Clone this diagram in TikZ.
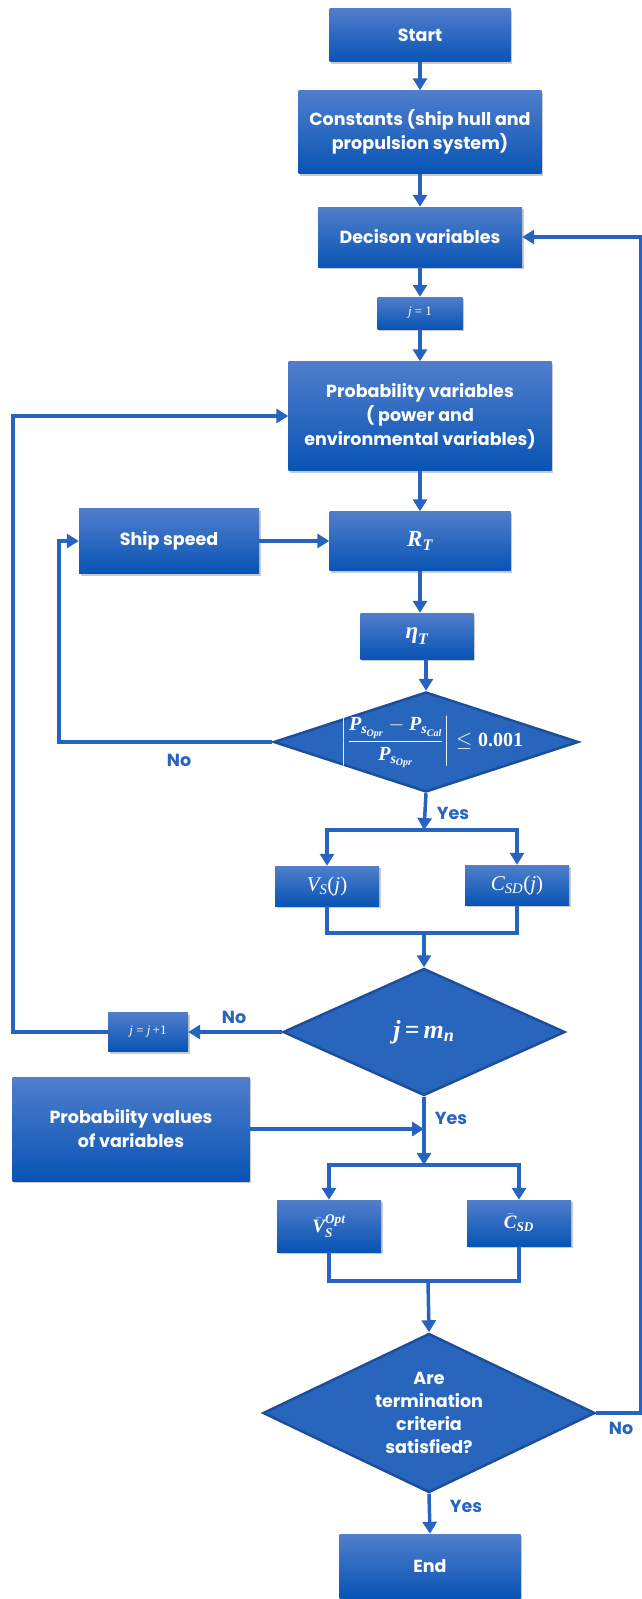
\documentclass[tikz,border=0pt]{standalone}
\usepackage{fontspec}
\setmainfont{Poppins}
\newfontfamily\tnr{Liberation Serif}
\usepackage{amsmath}
\usetikzlibrary{shapes.geometric,arrows.meta,shadows}

\definecolor{boxtop}{RGB}{80,126,204}
\definecolor{boxbot}{RGB}{8,84,180}
\definecolor{flowblue}{RGB}{38,100,192}
\definecolor{diafill}{RGB}{40,102,190}
\definecolor{diaedge}{RGB}{28,78,156}

% bold italic and plain italic letters in a Times-like face
\newcommand{\mvar}[1]{\text{\tnr\bfseries\itshape #1}}
\newcommand{\ivar}[1]{\text{\tnr\itshape #1}}
\newsavebox{\tolbox}

\tikzset{
  block/.style={rectangle, top color=boxtop, bottom color=boxbot, text=white,
    font=\bfseries\fontsize{17.5}{24}\selectfont, align=center, inner sep=0pt,
    drop shadow={shadow xshift=1.5pt, shadow yshift=-2pt, opacity=0.35, fill=black!60}},
  decision/.style={diamond, fill=diafill, draw=diaedge, line width=2.5pt, inner sep=0pt},
  flow/.style={draw=flowblue, line width=3.5pt, -{Triangle[length=12pt,width=14pt]}},
  link/.style={draw=flowblue, line width=3.5pt},
  answer/.style={text=flowblue, font=\bfseries\fontsize{17.5}{20}\selectfont}
}

\begin{document}
\sbox{\tolbox}{\color{white}\fontsize{20}{24}\selectfont
  $\displaystyle\left\vert\frac{\mvar{P}_{\mvar{s}_{\mvar{Opr}}}-\mvar{P}_{\mvar{s}_{\mvar{Cal}}}}{\mvar{P}_{\mvar{s}_{\mvar{Opr}}}}\right\vert\leq\text{\tnr\bfseries 0.001}$}%
\begin{tikzpicture}[x=1pt,y=-1pt]
\useasboundingbox (0,0) rectangle (642,1599);

\node[block, minimum width=181pt, minimum height=53pt] (start) at (420,35) {Start};
\node[block, minimum width=243pt, minimum height=83pt] (const) at (420,132) {Constants (ship hull and\\propulsion system)};
\node[block, minimum width=204pt, minimum height=60pt] (dec) at (420,237) {Decison variables};
\node[block, minimum width=85pt, minimum height=32pt, font=\tnr\fontsize{13}{15}\selectfont] (jone) at (420,313) {\textit{j} = 1};
\node[block, minimum width=263pt, minimum height=109pt] (prob) at (420,416) {Probability variables\\( power and\\environmental variables)};
\node[block, minimum width=180pt, minimum height=65pt] (ship) at (169,541) {Ship speed};
\node[block, minimum width=181pt, minimum height=59pt, font=\fontsize{23}{26}\selectfont] (rt) at (420,541) {$\mvar{R}_{\mvar{T}}$};
\node[block, minimum width=113pt, minimum height=46pt, font=\fontsize{23}{26}\selectfont] (eta) at (417,636) {$\mvar{η}_{\mvar{T}}$};

\node[decision, minimum width=305pt, minimum height=100pt] (chk) at (426,742) {};
\node[inner sep=0pt] (tol) at (432,742) {\usebox{\tolbox}};

\node[block, minimum width=104pt, minimum height=40pt, font=\fontsize{21}{24}\selectfont] (vs) at (327,886) {$\ivar{V}_{\ivar{S}}\text{\tnr(}\ivar{j}\text{\tnr)}$};
\node[block, minimum width=104pt, minimum height=40pt, font=\fontsize{21}{24}\selectfont] (csd) at (517,885) {$\ivar{C}_{\ivar{SD}}\text{\tnr(}\ivar{j}\text{\tnr)}$};

\node[decision, minimum width=282pt, minimum height=127pt] (loop) at (424,1032) {};
\node[text=white, font=\fontsize{26}{30}\selectfont] (cnt) at (loop) {$\mvar{j}\,\text{\tnr\bfseries =}\,\mvar{m}_{\mvar{n}}$};
\node[block, minimum width=80pt, minimum height=39pt, font=\tnr\fontsize{13}{15}\selectfont] (jinc) at (148,1032) {\textit{j} = \textit{j}\,+1};

\node[block, minimum width=237pt, minimum height=104pt] (pval) at (131,1129) {Probability values\\of variables};
\node[block, minimum width=104pt, minimum height=52pt, font=\fontsize{19}{22}\selectfont] (vbar) at (329,1226) {$\bar{\mvar{V}}_{\mvar{S}}^{\mvar{Opt}}$};
\node[block, minimum width=104pt, minimum height=46pt, font=\fontsize{19}{22}\selectfont] (cbar) at (519,1223) {$\bar{\mvar{C}}_{\mvar{SD}}$};

\node[decision, minimum width=332pt, minimum height=159pt] (term) at (429,1413) {};
\node[text=white, align=center, font=\bfseries\fontsize{17.5}{23}\selectfont] (ask) at (term) {Are\\termination\\criteria\\satisfied?};
\node[block, minimum width=181pt, minimum height=64pt] (finish) at (430,1566) {End};

\coordinate (split1) at (424,830);
\coordinate (join1) at (424,933);
\coordinate (split2) at (424,1165);
\coordinate (join2) at (428,1281);
\coordinate (innerL) at (59,0);
\coordinate (outerL) at (13,0);
\coordinate (outerR) at (641,0);

\draw[flow] (start) -- (const);
\draw[flow] (const) -- (dec);
\draw[flow] (dec) -- (jone);
\draw[flow] (jone) -- (prob);
\draw[flow] (prob) -- (rt);
\draw[flow] (ship) -- (rt);
\draw[flow] (rt.south) -- (rt.south |- eta.north);
\draw[flow] (eta.south -| chk.north) -- (chk.north);
\draw[flow] (chk.west) -- (chk.west -| innerL) |- (ship.west);
\draw[flow] (chk.south) -- (split1);
\draw[flow] (split1) -| (vs);
\draw[flow] (split1) -| (csd);
\draw[link] (vs.south) |- (join1);
\draw[link] (csd.south) |- (join1);
\draw[flow] (join1) -- (loop.north);
\draw[flow] (loop.west) -- (jinc.east);
\draw[flow] (jinc.west) -- (jinc.west -| outerL) |- (prob.west);
\draw[flow] (loop.south) -- (split2);
\draw[flow] (pval.east) -- (split2 |- pval.east);
\draw[flow] (split2) -| (vbar);
\draw[flow] (split2) -| (cbar);
\draw[link] (vbar.south) |- (join2);
\draw[link] (cbar.south) |- (join2);
\draw[flow] (join2) -- (term.north);
\draw[flow] (term.south) -- (finish.north);
\draw[flow] (term.east) -- (term.east -| outerR) |- (dec.east);

\node[answer] (no1) at (179,760) {No};
\node[answer] (yes1) at (453,813) {Yes};
\node[answer] (no2) at (234,1017) {No};
\node[answer] (yes2) at (451,1118) {Yes};
\node[answer] (no3) at (621,1428) {No};
\node[answer] (yes3) at (466,1506) {Yes};
\end{tikzpicture}
\end{document}
